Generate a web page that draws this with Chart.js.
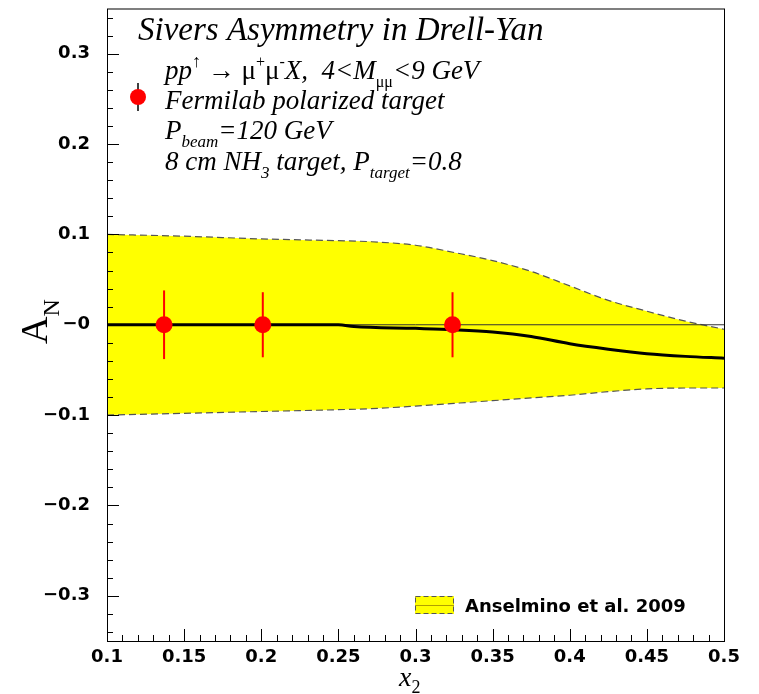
<!DOCTYPE html>
<html>
<head>
<meta charset="utf-8">
<script src="https://cdn.jsdelivr.net/npm/chart.js@4.4.1/dist/chart.umd.min.js"></script>
<style>
  html, body { margin: 0; padding: 0; background: #fff; }
  #wrap { width: 759px; height: 694px; }
</style>
</head>
<body>
<div id="wrap"><canvas id="anChart" width="759" height="694"></canvas></div>
<script>
// --- data ---
const bandX     = [0.1, 0.15, 0.2, 0.25, 0.27, 0.3, 0.325, 0.35, 0.375, 0.4, 0.425, 0.45, 0.475, 0.5];
const bandUpper = [0.100, 0.098, 0.095, 0.093, 0.092, 0.088, 0.080, 0.071, 0.059, 0.043, 0.027, 0.015, 0.004, -0.005];
const bandLower = [-0.100, -0.098, -0.096, -0.094, -0.093, -0.090, -0.087, -0.084, -0.081, -0.078, -0.074, -0.071, -0.070, -0.070];

const curveX = [0.1, 0.15, 0.2, 0.25, 0.26, 0.3, 0.325, 0.35, 0.375, 0.4, 0.425, 0.45, 0.475, 0.5];
const curveY = [0, 0, 0, 0, -0.002, -0.004, -0.0055, -0.008, -0.013, -0.021, -0.027, -0.032, -0.035, -0.037];

const dataX   = [0.137, 0.201, 0.324];
const dataY   = [0, 0, 0];
const dataErr = [0.038, 0.036, 0.036];

const xTickValues = [0.1, 0.15, 0.2, 0.25, 0.3, 0.35, 0.4, 0.45, 0.5];
const xTickLabels = ['0.1', '0.15', '0.2', '0.25', '0.3', '0.35', '0.4', '0.45', '0.5'];
const yTickValues = [-0.3, -0.2, -0.1, 0, 0.1, 0.2, 0.3];
const yTickLabels = ['\u22120.3', '\u22120.2', '\u22120.1', '\u22120', '0.1', '0.2', '0.3'];

const toPts = (xs, ys) => xs.map((x, i) => ({ x: x, y: ys[i] }));

// rich text: parts = [text, font, dy]
function drawRich(ctx, x, y, parts) {
    parts.forEach(p => {
        ctx.font = p[1];
        ctx.fillText(p[0], x, y + (p[2] || 0));
        x += ctx.measureText(p[0]).width;
    });
    return x;
}

const SERIF = '"Liberation Serif", "Times New Roman", serif';
const IT = s => 'italic ' + s + 'px ' + SERIF;
const RM = s => s + 'px ' + SERIF;

// error bars drawn just before the marker dataset
const errorBars = {
    id: 'errorBars',
    beforeDatasetDraw(chart, args) {
        if (args.index !== 0) return;
        const ctx = chart.ctx, xs = chart.scales.x, ys = chart.scales.y;
        ctx.save();
        ctx.strokeStyle = '#ff0000';
        ctx.lineWidth = 2;
        dataX.forEach((x, i) => {
            const px = xs.getPixelForValue(x);
            ctx.beginPath();
            ctx.moveTo(px, ys.getPixelForValue(dataY[i] + dataErr[i]));
            ctx.lineTo(px, ys.getPixelForValue(dataY[i] - dataErr[i]));
            ctx.stroke();
        });
        ctx.restore();
    }
};

// ROOT-like frame, inward ticks, axis titles and legend
const decorations = {
    id: 'decorations',
    afterDraw(chart) {
        const ctx = chart.ctx, a = chart.chartArea;
        const xs = chart.scales.x, ys = chart.scales.y;
        ctx.save();
        ctx.strokeStyle = '#000';
        ctx.lineWidth = 1;
        ctx.strokeRect(a.left + 0.5, a.top + 0.5, a.right - a.left, a.bottom - a.top);

        // ticks (inside)
        ctx.beginPath();
        for (let k = 0; k <= 40; k++) {
            const v = 0.1 + k * 0.01;
            const px = Math.round(xs.getPixelForValue(v)) + 0.5;
            const len = (k % 5 === 0) ? 12 : 6;
            ctx.moveTo(px, a.bottom);
            ctx.lineTo(px, a.bottom - len);
        }
        for (let k = -17; k <= 17; k++) {
            const v = k * 0.02;
            const py = Math.round(ys.getPixelForValue(v)) + 0.5;
            const len = (k % 5 === 0) ? 12 : 6;
            ctx.moveTo(a.left, py);
            ctx.lineTo(a.left + len, py);
        }
        ctx.stroke();

        ctx.fillStyle = '#000';
        ctx.textAlign = 'left';
        ctx.textBaseline = 'alphabetic';

        // x title
        drawRich(ctx, 399, 686, [['x', IT(28)], ['2', RM(18), 7]]);

        // y title (rotated)
        ctx.save();
        ctx.translate(47, 344);
        ctx.rotate(-Math.PI / 2);
        drawRich(ctx, 0, 0, [['A', RM(38)], ['N', RM(24), 12]]);
        ctx.restore();

        // upper legend
        ctx.font = IT(33);
        ctx.fillText('Sivers Asymmetry in Drell-Yan', 138, 40);
        drawRich(ctx, 165, 79, [
            ['pp', IT(27)], ['\u2191', RM(18), -12], [' \u2192 ', RM(27)],
            ['\u03bc', RM(27)], ['+', RM(16), -12], ['\u03bc', RM(27)], ['-', RM(16), -12],
            ['X,  4<M', IT(27)], ['\u03bc\u03bc', RM(16), 8], ['<9 GeV', IT(27)]
        ]);
        ctx.font = IT(27);
        ctx.fillText('Fermilab polarized target', 165, 109);
        drawRich(ctx, 165, 139, [['P', IT(27)], ['beam', IT(17), 8], ['=120 GeV', IT(27)]]);
        drawRich(ctx, 165, 170, [['8 cm NH', IT(27)], ['3', IT(17), 8], [' target, P', IT(27)],
            ['target', IT(17), 8], ['=0.8', IT(27)]]);

        // legend marker
        ctx.strokeStyle = '#000';
        ctx.lineWidth = 1.5;
        ctx.beginPath();
        ctx.moveTo(138, 83);
        ctx.lineTo(138, 111);
        ctx.stroke();
        ctx.fillStyle = '#ff0000';
        ctx.beginPath();
        ctx.arc(138, 97, 8, 0, Math.PI * 2);
        ctx.fill();

        // lower legend
        ctx.fillStyle = '#ffff00';
        ctx.fillRect(415, 596, 39, 18);
        ctx.strokeStyle = '#555';
        ctx.lineWidth = 1;
        ctx.setLineDash([5, 3]);
        ctx.strokeRect(415.5, 596.5, 38, 17);
        ctx.setLineDash([]);
        ctx.strokeStyle = '#b0a000';
        ctx.beginPath();
        ctx.moveTo(415, 605.5);
        ctx.lineTo(454, 605.5);
        ctx.stroke();
        ctx.fillStyle = '#000';
        ctx.font = 'bold 18px "DejaVu Sans", sans-serif';
        ctx.fillText('Anselmino et al. 2009', 465, 612);
        ctx.restore();
    }
};

const ctx = document.getElementById('anChart').getContext('2d');
new Chart(ctx, {
    type: 'scatter',
    data: {
        datasets: [
            {
                label: 'Fermilab polarized target',
                data: toPts(dataX, dataY),
                backgroundColor: '#ff0000',
                borderWidth: 0,
                pointRadius: 8.5,
                order: 0
            },
            {
                label: 'curve',
                type: 'line',
                data: toPts(curveX, curveY),
                borderColor: '#000',
                borderWidth: 3,
                pointRadius: 0,
                cubicInterpolationMode: 'monotone',
                fill: false,
                order: 1
            },
            {
                label: 'zero',
                type: 'line',
                data: [{ x: 0.1, y: 0 }, { x: 0.5, y: 0 }],
                borderColor: '#333',
                borderWidth: 1,
                pointRadius: 0,
                fill: false,
                order: 2
            },
            {
                label: 'Anselmino et al. 2009',
                type: 'line',
                data: toPts(bandX, bandUpper),
                borderColor: '#555',
                borderWidth: 1.2,
                borderDash: [7, 4],
                backgroundColor: '#ffff00',
                pointRadius: 0,
                cubicInterpolationMode: 'monotone',
                fill: { target: 4 },
                order: 4
            },
            {
                label: 'lower',
                type: 'line',
                data: toPts(bandX, bandLower),
                borderColor: '#555',
                borderWidth: 1.2,
                borderDash: [7, 4],
                pointRadius: 0,
                cubicInterpolationMode: 'monotone',
                fill: false,
                order: 3
            }
        ]
    },
    options: {
        responsive: false,
        animation: false,
        events: [],
        layout: { padding: { left: 0, right: 35, top: 6, bottom: 0 } },
        plugins: { legend: { display: false }, tooltip: { enabled: false } },
        scales: {
            x: {
                type: 'linear',
                min: 0.1,
                max: 0.5,
                grid: { display: false, drawTicks: false },
                border: { display: false },
                afterBuildTicks: s => { s.ticks = xTickValues.map(v => ({ value: v })); },
                afterFit: s => { s.height = 53; s.paddingLeft = 0; s.paddingRight = 0; },
                ticks: {
                    padding: 6,
                    maxRotation: 0,
                    autoSkip: false,
                    color: '#000',
                    font: { family: '"DejaVu Sans", sans-serif', size: 18, weight: 'bold' },
                    callback: v => xTickLabels[xTickValues.findIndex(t => Math.abs(t - v) < 1e-9)]
                }
            },
            y: {
                type: 'linear',
                min: -0.35,
                max: 0.35,
                grid: { display: false, drawTicks: false },
                border: { display: false },
                afterBuildTicks: s => { s.ticks = yTickValues.map(v => ({ value: v })); },
                afterFit: s => { s.width = 107; s.paddingTop = 0; s.paddingBottom = 0; },
                ticks: {
                    padding: 17,
                    autoSkip: false,
                    color: '#000',
                    font: { family: '"DejaVu Sans", sans-serif', size: 18, weight: 'bold' },
                    callback: v => yTickLabels[yTickValues.findIndex(t => Math.abs(t - v) < 1e-9)]
                }
            }
        }
    },
    plugins: [errorBars, decorations]
});
</script>
</body>
</html>
